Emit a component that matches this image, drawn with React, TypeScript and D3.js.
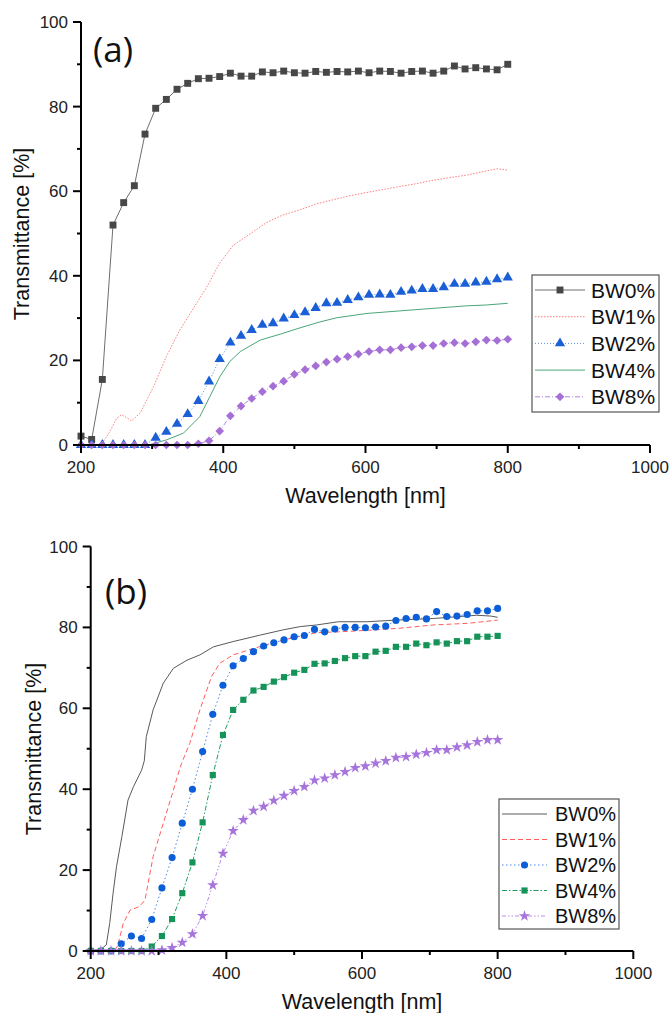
import React from "react";
import * as d3 from "d3";

// sample grid of the marker series (nm)
const markerNm = [
  200, 215, 230, 245, 260, 275, 290, 305, 320, 335, 350, 365, 380, 395, 410, 425, 440, 455, 470, 485, 500,
  515, 530, 545, 560, 575, 590, 605, 620, 635, 650, 665, 680, 695, 710, 725, 740, 755, 770, 785, 800,
];

const seriesNames = ["BW0%", "BW1%", "BW2%", "BW4%", "BW8%"];
const xTicks = [200, 400, 600, 800, 1000];
const xMinorTicks = [300, 500, 700, 900];
const yTicks = [0, 20, 40, 60, 80, 100];
const yMinorTicks = [10, 30, 50, 70, 90];

// ---- panel (a) ----
const aBw0 = [
  2.1, 1.3, 15.5, 52, 57.3, 61.3, 73.5, 79.6, 81.7, 84.1, 85.5, 86.6, 86.7, 87.1, 87.9, 87.2, 87.2, 88.2, 88.0, 88.4, 88.0,
  87.9, 88.3, 88.1, 88.3, 88.2, 88.4, 88.0, 88.4, 88.3, 87.9, 88.3, 88.4, 87.9, 88.4, 89.6, 88.9, 89.2, 88.9, 88.7, 90.0,
];
const aBw1: [number, number][] = [
  [200, 0], [220, 0], [230, 0.5], [240, 3], [250, 6.3], [257, 7.1], [264, 6.5], [271, 5.7], [283, 7.5],
  [302, 13.8], [320, 20.9], [339, 27.2], [358, 32.3], [377, 37.4], [395, 43], [414, 47.2], [442, 50.4],
  [461, 52.6], [484, 54.4], [508, 55.6], [531, 57.0], [555, 58.0], [580, 59.0], [602, 59.7], [625, 60.4],
  [648, 61.1], [672, 61.8], [695, 62.6], [718, 63.2], [742, 63.8], [770, 64.8], [785, 65.3], [800, 65.0],
];
const aBw2 = [
  0, 0, 0, 0, 0, 0, 0, 1.7, 3.1, 5.0, 7.3, 10.4, 15.0, 20.3, 24.2, 25.8, 27.2, 28.4, 28.8, 29.9, 30.7,
  31.4, 32.4, 33.5, 33.6, 34.3, 34.9, 35.5, 35.6, 35.5, 36.2, 36.5, 36.9, 36.9, 37.3, 38.1, 38.1, 38.4, 38.6, 39.2, 39.6,
];
const aBw4: [number, number][] = [
  [200, 0], [295, 0], [320, 1.2], [344, 2.8], [367, 6.7], [381, 11.4], [395, 16.1], [409, 19.7],
  [424, 22.1], [452, 24.8], [480, 26.2], [508, 27.7], [536, 29.1], [560, 30.1], [602, 31.1], [648, 31.7],
  [695, 32.3], [742, 32.9], [770, 33.1], [800, 33.5],
];
const aBw8 = [
  0, 0, 0, 0, 0, 0, 0, 0, 0, 0, 0, 0.3, 1.0, 3.3, 6.9, 9.2, 11.0, 12.6, 13.9, 15.1, 16.7,
  17.8, 18.7, 19.6, 20.3, 20.9, 21.5, 22.1, 22.5, 22.5, 23.0, 23.2, 23.5, 23.5, 24.0, 24.2, 24.0, 24.4, 24.8, 24.7, 25.0,
];

// ---- panel (b) ----
const bBw0: [number, number][] = [
  [200, 0], [214, 0.3], [223, 1.5], [228, 6.8], [233, 14.3], [238, 20.8], [246, 28.3], [255, 37.3],
  [263, 40.6], [275, 44.7], [279, 47], [282, 53], [292, 59.6], [307, 66.2], [322, 69.9], [342, 71.9],
  [361, 73.2], [381, 75.2], [410, 76.5], [450, 78.1], [484, 79.4], [509, 80.2], [533, 80.6], [565, 81.4],
  [607, 81.4], [650, 81.8], [705, 82.2], [769, 83.0], [790, 82.8], [800, 82.5],
];
const bBw1: [number, number][] = [
  [200, 0], [235, 0], [240, 1.5], [248, 6.8], [258, 10.1], [272, 11], [280, 12.6], [292, 23.3],
  [307, 31.6], [322, 39.8], [327, 42.7], [334, 46.4], [346, 51.3], [361, 59.6], [378, 67.8], [390, 71.1],
  [410, 73.2], [440, 74.8], [484, 76.9], [533, 78.7], [565, 78.9], [610, 79.3], [656, 79.8], [705, 80.6],
  [755, 81.0], [800, 81.8],
];
const bBw2 = [
  0, 0, 0, 1.8, 3.7, 3.1, 7.8, 15.6, 23.1, 31.6, 40.0, 49.3, 58.5, 65.7, 70.5, 72.3, 74.0, 75.4, 76.2, 76.9, 77.7,
  78.0, 79.5, 78.9, 79.6, 80.0, 80.0, 79.9, 80.1, 80.3, 81.7, 82.2, 82.5, 82.1, 83.9, 82.7, 82.8, 83.2, 84.1, 84.1, 84.7,
];
const bBw4 = [
  0, 0, 0, 0, 0, 0, 1.1, 3.7, 7.9, 14.3, 21.9, 31.8, 43.5, 53.4, 59.6, 62.1, 64.4, 65.3, 66.6, 67.7, 68.8,
  69.5, 71.0, 71.1, 71.7, 72.4, 72.9, 72.9, 74.0, 74.2, 75.2, 75.2, 76.0, 75.6, 76.3, 76.0, 76.6, 76.6, 77.7, 77.7, 77.9,
];
const bBw8 = [
  0, 0, 0, 0, 0, 0, 0, 0.2, 0.8, 2.1, 4.2, 8.7, 16.3, 24.1, 29.7, 32.4, 34.7, 35.7, 37.2, 38.4, 39.6,
  40.6, 42.2, 42.7, 43.5, 44.3, 45.3, 45.7, 46.4, 47.0, 47.8, 48.0, 48.6, 49.0, 49.7, 49.7, 50.4, 50.9, 51.7, 52.2, 52.2,
];

const onGrid = (vals: number[]): [number, number][] => vals.map((v, i) => [markerNm[i], v]);

type Series = {
  name: string;
  pts: [number, number][];
  line: string;
  mark?: string;
  dash?: string;
  symbol?: d3.SymbolType;
  size?: number;
};

const panelA: Series[] = [
  { name: seriesNames[0], pts: onGrid(aBw0), line: "#6e6e6e", mark: "#474747", symbol: d3.symbolSquare, size: 48 },
  { name: seriesNames[1], pts: aBw1, line: "#ff7d7d", dash: "1.5,1.5" },
  { name: seriesNames[2], pts: onGrid(aBw2), line: "#5b8fe6", mark: "#1a5fd6", dash: "1,2", symbol: d3.symbolTriangle, size: 46 },
  { name: seriesNames[3], pts: aBw4, line: "#4aa57a" },
  { name: seriesNames[4], pts: onGrid(aBw8), line: "#b488e0", mark: "#a56fd6", dash: "5,2,1,2", symbol: d3.symbolDiamond2, size: 48 },
];

const panelB: Series[] = [
  { name: seriesNames[0], pts: bBw0, line: "#5a5a5a" },
  { name: seriesNames[1], pts: bBw1, line: "#ff5c5c", dash: "5,3" },
  { name: seriesNames[2], pts: onGrid(bBw2), line: "#4b86e8", mark: "#0b5ed7", dash: "1.5,2.5", symbol: d3.symbolCircle, size: 40 },
  { name: seriesNames[3], pts: onGrid(bBw4), line: "#1f9c60", mark: "#159358", dash: "5,2,1.5,2", symbol: d3.symbolSquare, size: 38 },
  { name: seriesNames[4], pts: onGrid(bBw8), line: "#b88ce4", mark: "#a774dc", dash: "4,2,1.5,2,1.5,2", symbol: d3.symbolStar, size: 40 },
];

const FONT = "'Liberation Sans', Arial, sans-serif";

type Layout = {
  left: number; right: number; bottom: number; top: number;
  tag: string; tagX: number; tagY: number;
  yTitleX: number; yTitleY: number; xTitleY: number;
  lg: { x: number; y: number; w: number; h: number; row0: number; step: number; l0: number; l1: number; tx: number; font: number };
};

function Panel({ series, lay }: { series: Series[]; lay: Layout }) {
  const x = d3.scaleLinear().domain([200, 1000]).range([lay.left, lay.right]);
  const y = d3.scaleLinear().domain([0, 100]).range([lay.bottom, lay.top]);
  const line = d3.line<[number, number]>().x((d) => x(d[0])).y((d) => y(d[1]));
  const lg = lay.lg;
  const lineMid = (lg.l0 + lg.l1) / 2;

  return (
    <g>
      {/* curves */}
      {series.map((s) => (
        <path key={s.name} d={line(s.pts) ?? ""} fill="none" stroke={s.line} strokeWidth={1}
          strokeDasharray={s.dash} />
      ))}
      {series.map((s) =>
        s.symbol
          ? s.pts.map((p, i) => (
              <path key={s.name + i} d={d3.symbol(s.symbol!, s.size)() ?? ""} fill={s.mark}
                transform={`translate(${x(p[0])},${y(p[1])})`} />
            ))
          : null
      )}

      {/* axes */}
      <line x1={lay.left} x2={lay.right} y1={lay.bottom} y2={lay.bottom} stroke="#000" strokeWidth={2} />
      <line x1={lay.left} x2={lay.left} y1={lay.bottom + 1} y2={lay.top} stroke="#000" strokeWidth={2} />
      {xTicks.map((t) => (
        <g key={"xt" + t}>
          <line x1={x(t)} x2={x(t)} y1={lay.bottom} y2={lay.bottom + 8} stroke="#000" strokeWidth={2} />
          <text x={x(t)} y={lay.bottom + 28} textAnchor="middle" fontSize={17} fontFamily={FONT} fill="#222">{t}</text>
        </g>
      ))}
      {xMinorTicks.map((t) => (
        <line key={"xm" + t} x1={x(t)} x2={x(t)} y1={lay.bottom} y2={lay.bottom + 4} stroke="#000" strokeWidth={2} />
      ))}
      {yTicks.map((t) => (
        <g key={"yt" + t}>
          <line x1={lay.left - 8} x2={lay.left} y1={y(t)} y2={y(t)} stroke="#000" strokeWidth={2} />
          <text x={lay.left - 13} y={y(t) + 6} textAnchor="end" fontSize={17} fontFamily={FONT} fill="#222">{t}</text>
        </g>
      ))}
      {yMinorTicks.map((t) => (
        <line key={"ym" + t} x1={lay.left - 4} x2={lay.left} y1={y(t)} y2={y(t)} stroke="#000" strokeWidth={2} />
      ))}

      {/* titles */}
      <text x={(lay.left + lay.right) / 2} y={lay.xTitleY} textAnchor="middle" fontSize={21.5} fontFamily={FONT} fill="#111">
        Wavelength [nm]
      </text>
      <text transform={`translate(${lay.yTitleX},${lay.yTitleY}) rotate(-90)`} textAnchor="middle"
        dominantBaseline="central" fontSize={21.5} fontFamily={FONT} fill="#111">
        Transmittance [%]
      </text>
      <text x={lay.tagX} y={lay.tagY} fontSize={35} fontFamily="'Open Sans', sans-serif" fill="#111">{lay.tag}</text>

      {/* legend */}
      <rect x={lg.x} y={lg.y} width={lg.w} height={lg.h} fill="#fff" stroke="#555" strokeWidth={1.2} />
      {series.map((s, i) => {
        const cy = lg.row0 + i * lg.step;
        return (
          <g key={"lg" + s.name}>
            <line x1={lg.l0} x2={lg.l1} y1={cy} y2={cy} stroke={s.line} strokeWidth={1} strokeDasharray={s.dash} />
            {s.symbol && (
              <path d={d3.symbol(s.symbol, s.size)() ?? ""} fill={s.mark} transform={`translate(${lineMid},${cy})`} />
            )}
            <text x={lg.tx} y={cy} dominantBaseline="central" fontSize={lg.font} fontFamily={FONT} fill="#111">{s.name}</text>
          </g>
        );
      })}
    </g>
  );
}

const layoutA: Layout = {
  left: 81, right: 650, bottom: 445, top: 22,
  tag: "(a)", tagX: 93, tagY: 62,
  yTitleX: 22, yTitleY: 234, xTitleY: 503,
  lg: { x: 532, y: 275, w: 127, h: 137, row0: 290, step: 26.7, l0: 535, l1: 585, tx: 591, font: 21 },
};

const layoutB: Layout = {
  left: 90.7, right: 633.3, bottom: 951, top: 546.5,
  tag: "(b)", tagX: 105, tagY: 604,
  yTitleX: 34, yTitleY: 749, xTitleY: 1009,
  lg: { x: 499, y: 799, w: 120, h: 130, row0: 814, step: 25.5, l0: 502, l1: 547, tx: 555, font: 20 },
};

export default function App() {
  return (
    <svg width={670} height={1013} style={{ position: "absolute", left: 0, top: 0, background: "#fff" }}>
      <rect width={670} height={1013} fill="#fff" />
      <Panel series={panelA} lay={layoutA} />
      <Panel series={panelB} lay={layoutB} />
    </svg>
  );
}
